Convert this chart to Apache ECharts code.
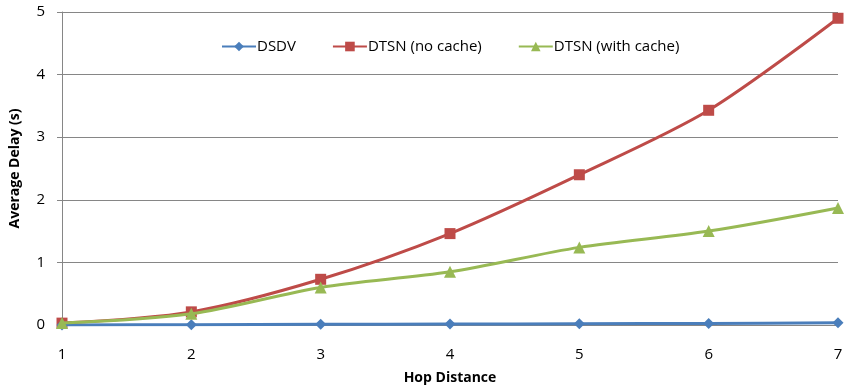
<!DOCTYPE html>
<html><head><meta charset="utf-8">
<script src="https://cdn.jsdelivr.net/npm/echarts@6/dist/echarts.min.js"></script>
<style>html,body{margin:0;padding:0;background:#fff}#c{width:847px;height:390px}</style>
</head><body><div id="c"></div>
<script>
var categories = ['1','2','3','4','5','6','7'];
var dsdv = [0.0, 0.005, 0.01, 0.015, 0.02, 0.025, 0.035];
var dtsnNoCache = [0.03, 0.21, 0.73, 1.46, 2.40, 3.43, 4.90];
var dtsnWithCache = [0.03, 0.18, 0.60, 0.85, 1.24, 1.50, 1.87];
var seriesNames = ['DSDV', 'DTSN (no cache)', 'DTSN (with cache)'];
var colors = ['#4a7ebb', '#be4b48', '#98b954'];
var font = '"Open Sans", "Liberation Sans", sans-serif';
var chart = echarts.init(document.getElementById('c'));
chart.setOption({
  animation: false,
  color: colors,
  textStyle: {fontFamily: font},
  grid: {left: 62, right: 9, top: 12, bottom: 65, containLabel: false, outerBoundsMode: 'none'},
  legend: {
    top: 34, left: 216, itemGap: 36, itemWidth: 34, itemHeight: 12,
    textStyle: {fontSize: 15, color: '#000', fontFamily: font, padding: [0, 0, 0, -4]},
    data: seriesNames
  },
  xAxis: {
    type: 'category', data: categories, boundaryGap: false,
    name: 'Hop Distance', nameLocation: 'middle', nameGap: 46,
    nameTextStyle: {fontSize: 14, fontWeight: 'bold', color: '#000'},
    axisLine: {lineStyle: {color: '#868686', width: 1}},
    axisTick: {show: false},
    axisLabel: {fontSize: 15, color: '#000', margin: 22}
  },
  yAxis: {
    type: 'value', min: 0, max: 5, interval: 1,
    name: 'Average Delay (s)', nameLocation: 'middle', nameGap: 40, nameRotate: 90,
    nameTextStyle: {fontSize: 14, fontWeight: 'bold', color: '#000'},
    axisLine: {show: true, lineStyle: {color: '#868686', width: 1}},
    axisTick: {show: true, length: 5, inside: false, lineStyle: {color: '#868686'}},
    axisLabel: {fontSize: 15, color: '#000', margin: 17},
    splitLine: {lineStyle: {color: '#868686', width: 1}}
  },
  series: [
    {name: seriesNames[0], type: 'line', data: dsdv, smooth: 0.3, symbol: 'diamond', symbolSize: 11, lineStyle: {width: 3}, z: 3},
    {name: seriesNames[1], type: 'line', data: dtsnNoCache, smooth: 0.3, symbol: 'rect', symbolSize: 11, lineStyle: {width: 3}, z: 2},
    {name: seriesNames[2], type: 'line', data: dtsnWithCache, smooth: 0.3, symbol: 'triangle', symbolSize: 12, lineStyle: {width: 3}, z: 4}
  ]
});
</script></body></html>
